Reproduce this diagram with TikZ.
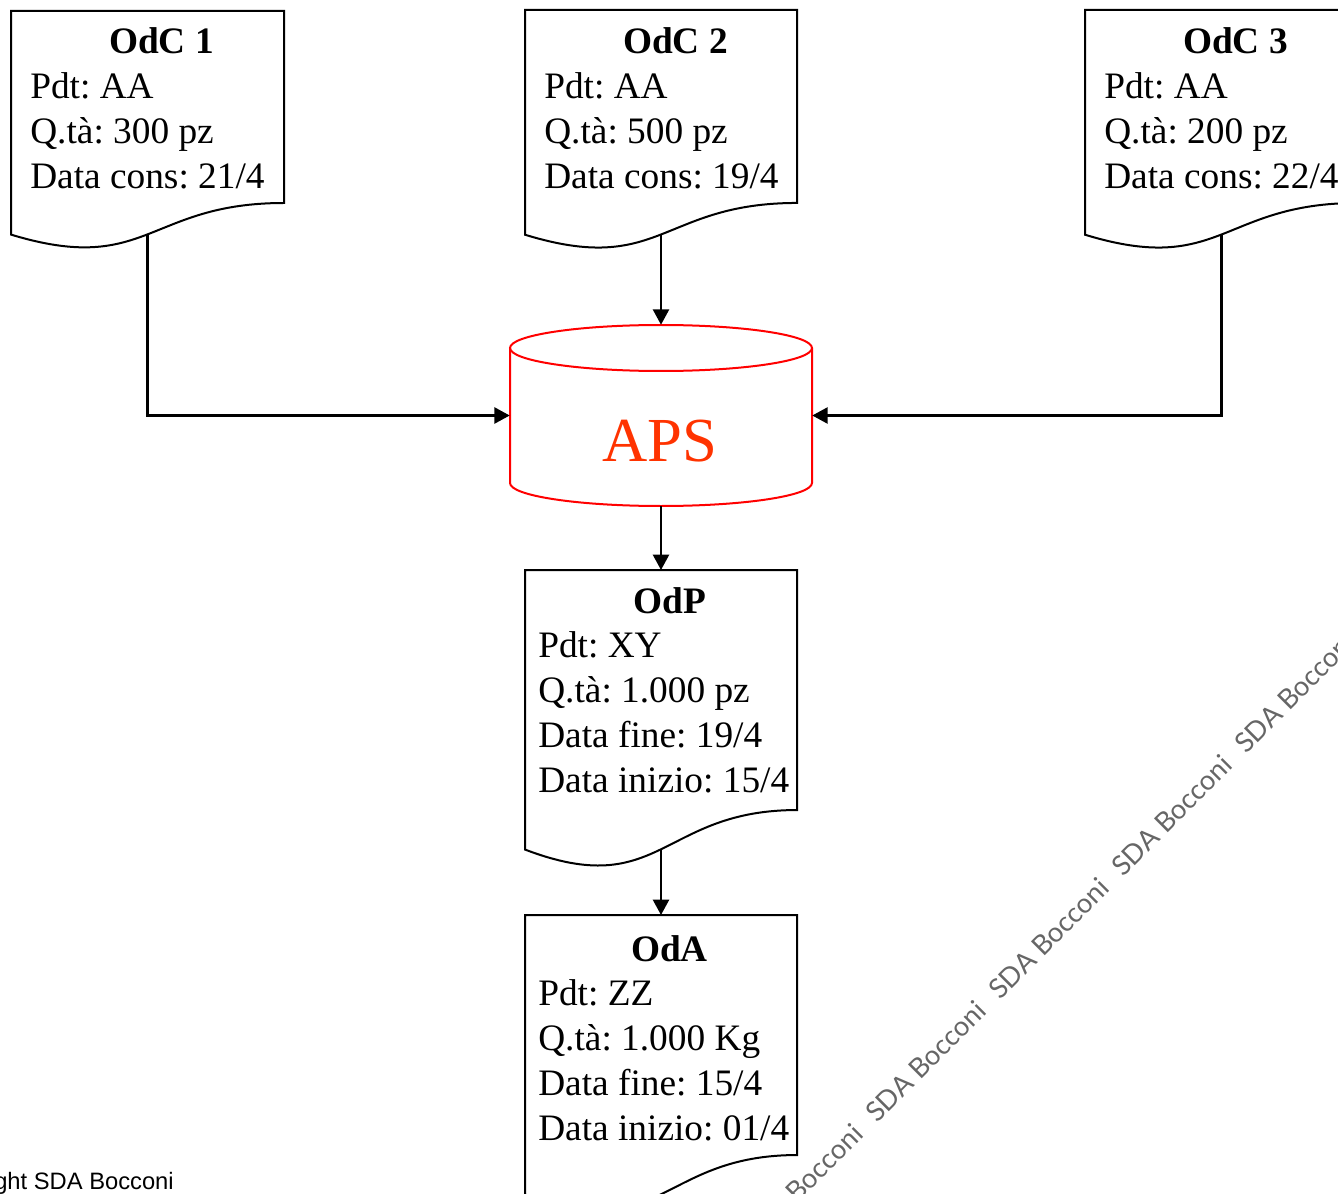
\documentclass[tikz,border=0pt]{standalone}
\usepackage{fontspec}
\setmainfont{Liberation Serif}
\newfontfamily\wmfont{Lato}
\newfontfamily\crfont{Liberation Sans}
\usetikzlibrary{arrows.meta}
\definecolor{apsred}{RGB}{255,51,0}
\frenchspacing
\tikzset{
	docline/.style={line width=1.5pt},
	doctitle/.style={anchor=base, inner sep=0pt, font=\fontsize{28}{34}\selectfont\bfseries},
	doctxt/.style={anchor=base west, inner sep=0pt, font=\fontsize{28}{34}\selectfont},
	flow/.style={line width=1.8pt, -{Triangle[length=11.5pt,width=12pt]}},
	apsline/.style={draw=red, line width=1.5pt},
	apsbox/.style={inner sep=0pt, minimum width=226.5pt, minimum height=135.75pt},
	wmark/.style={anchor=base west, inner sep=0pt, rotate=45, text=black!60, font=\wmfont\fontsize{20.5}{24}\selectfont},
}
% document shape: name, left, top, width, height
\newcommand{\docbox}[5]{%
	\pgfmathsetmacro{\dR}{#2+#4}
	\pgfmathsetmacro{\dM}{#2+0.5*#4}
	\pgfmathsetmacro{\dyR}{#3+0.802*#5}
	\pgfmathsetmacro{\dyL}{#3+0.934*#5}
	\pgfmathsetmacro{\dyC}{#3+1.1075*#5}
	\pgfmathsetmacro{\dyB}{0.5*\dyR+0.375*\dyC+0.125*\dyL}
	\draw[docline] (#2,#3) -- (\dR,#3) -- (\dR,\dyR) .. controls (\dM,\dyR) and (\dM,\dyC) .. (#2,\dyL) -- cycle;
	\coordinate (#1-top) at (\dM,#3);
	\coordinate (#1-bot) at (\dM,\dyB);
}
\begin{document}
\begin{tikzpicture}[x=0.75pt, y=-0.75pt]
	\useasboundingbox (0,0) rectangle (1338,1194);
	\clip (0,0) rectangle (1338,1194);
	% orders from customers
	\docbox{odc1}{11}{11}{273}{239.4}
	\docbox{odc2}{525}{10}{272}{240.6}
	\docbox{odc3}{1085}{10}{273}{240.6}
	\node[doctitle] (odc1-title) at (161.5,54) {OdC 1};
	\node[doctitle] (odc2-title) at (675.5,54) {OdC 2};
	\node[doctitle] (odc3-title) at (1235.5,54) {OdC 3};
	\foreach \t [count=\i] in {{Pdt: AA}, {Q.tà: 300 pz}, {Data cons: 21/4}}
		\node[doctxt] (odc1-\i) at (30,{54+44.7*\i}) {\t};
	\foreach \t [count=\i] in {{Pdt: AA}, {Q.tà: 500 pz}, {Data cons: 19/4}}
		\node[doctxt] (odc2-\i) at (544,{54+44.7*\i}) {\t};
	\foreach \t [count=\i] in {{Pdt: AA}, {Q.tà: 200 pz}, {Data cons: 22/4}}
		\node[doctxt] (odc3-\i) at (1104,{54+44.7*\i}) {\t};
	% APS
	\node[apsbox] (aps) at (661,415.5) {};
	\draw[apsline] (661,348) ellipse [x radius=151, y radius=23];
	\draw[apsline] (510,348) -- (510,483) arc[start angle=180, end angle=0, x radius=151, y radius=23] -- (812,348);
	\node[anchor=base, inner sep=0pt, text=apsred, font=\fontsize{47}{56}\selectfont] (aps-label) at (660,461) {APS};
	% production and purchase orders
	\docbox{odp}{525}{570}{272}{299.3}
	\docbox{oda}{525}{915}{272}{299.3}
	\node[doctitle] (odp-title) at (670,613) {OdP};
	\node[doctitle] (oda-title) at (669.5,961) {OdA};
	\foreach \t [count=\i] in {{Pdt: XY}, {Q.tà: 1.000 pz}, {Data fine: 19/4}, {Data inizio: 15/4}}
		\node[doctxt] (odp-\i) at (538,{613+44.8*\i}) {\t};
	\foreach \t [count=\i] in {{Pdt: ZZ}, {Q.tà: 1.000 Kg}, {Data fine: 15/4}, {Data inizio: 01/4}}
		\node[doctxt] (oda-\i) at (538,{961+44.8*\i}) {\t};
	% connectors
	\draw[flow] (odc1-bot) |- (aps.west);
	\draw[flow] (odc2-bot) -- (aps.north);
	\draw[flow] (odc3-bot) |- (aps.east);
	\draw[flow] (aps.south) -- (odp-top);
	\draw[flow] (odp-bot) -- (oda-top);
	% watermark
	\foreach \k in {-1,...,4}
		\node[wmark] (wm-\k) at ({877+123*\k},{1124-123*\k}) {SDA Bocconi};
	\node[anchor=base east, inner sep=0pt, font=\crfont\fontsize{17.8}{21}\selectfont] (copyright) at (174,1189) {Copyright SDA Bocconi};
\end{tikzpicture}
\end{document}
